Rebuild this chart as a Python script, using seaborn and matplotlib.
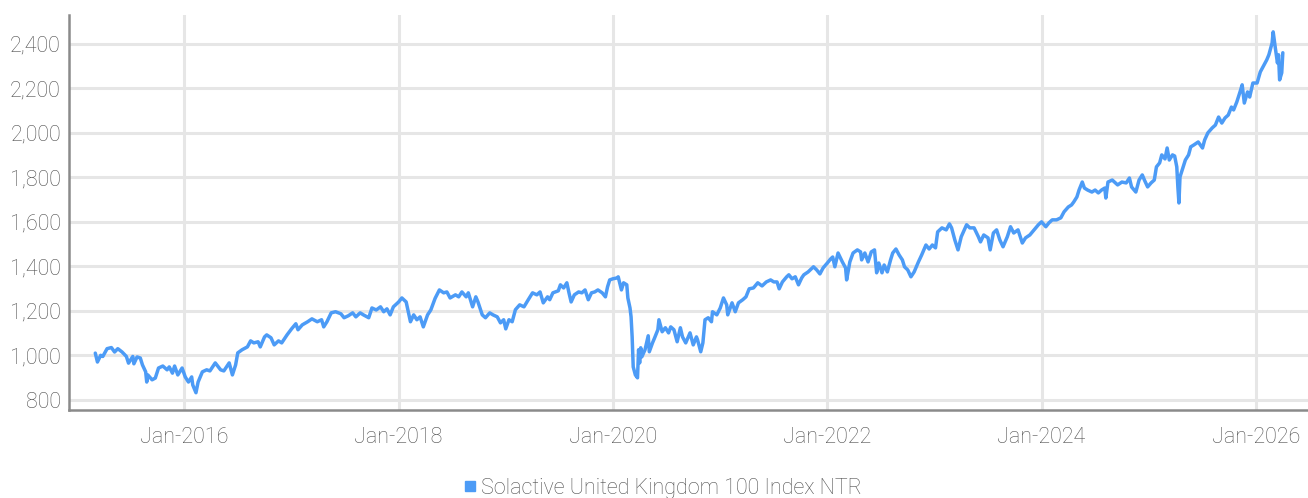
"""Solactive United Kingdom 100 Index NTR - index level over time"""

import matplotlib
matplotlib.use("Agg")
import matplotlib.pyplot as plt
import matplotlib.dates as mdates
import matplotlib.ticker as tic
from matplotlib.lines import Line2D
import seaborn as sns
import pandas as pd
import numpy as np

# index level, dates as decimal years
years = [
    2015.17, 2015.19, 2015.22, 2015.24, 2015.28, 2015.32, 2015.35, 2015.38, 2015.42, 2015.46,
    2015.48, 2015.52, 2015.53, 2015.56, 2015.59, 2015.61, 2015.64, 2015.65, 2015.66, 2015.70,
    2015.73, 2015.76, 2015.80, 2015.84, 2015.86, 2015.89, 2015.91, 2015.94, 2015.98, 2016.01,
    2016.04, 2016.07, 2016.08, 2016.11, 2016.13, 2016.17, 2016.21, 2016.24, 2016.29, 2016.34,
    2016.37, 2016.42, 2016.45, 2016.48, 2016.50, 2016.54, 2016.59, 2016.62, 2016.65, 2016.69,
    2016.71, 2016.75, 2016.77, 2016.81, 2016.84, 2016.88, 2016.91, 2016.96, 2017.00, 2017.04,
    2017.06, 2017.10, 2017.15, 2017.19, 2017.24, 2017.28, 2017.30, 2017.33, 2017.37, 2017.41,
    2017.46, 2017.49, 2017.53, 2017.57, 2017.60, 2017.64, 2017.67, 2017.72, 2017.75, 2017.79,
    2017.83, 2017.86, 2017.89, 2017.92, 2017.95, 2018.00, 2018.03, 2018.07, 2018.09, 2018.11,
    2018.14, 2018.17, 2018.20, 2018.23, 2018.27, 2018.30, 2018.34, 2018.38, 2018.42, 2018.45,
    2018.48, 2018.53, 2018.56, 2018.59, 2018.63, 2018.65, 2018.69, 2018.72, 2018.74, 2018.78,
    2018.81, 2018.85, 2018.88, 2018.92, 2018.95, 2018.98, 2019.00, 2019.03, 2019.06, 2019.09,
    2019.13, 2019.17, 2019.21, 2019.25, 2019.29, 2019.32, 2019.35, 2019.39, 2019.41, 2019.44,
    2019.49, 2019.51, 2019.54, 2019.57, 2019.59, 2019.61, 2019.64, 2019.68, 2019.71, 2019.74,
    2019.77, 2019.80, 2019.83, 2019.86, 2019.90, 2019.93, 2019.95, 2019.97, 2020.00, 2020.04,
    2020.05, 2020.08, 2020.10, 2020.13, 2020.14, 2020.16, 2020.17, 2020.18, 2020.19, 2020.21,
    2020.23, 2020.24, 2020.25, 2020.26, 2020.27, 2020.30, 2020.33, 2020.34, 2020.37, 2020.39,
    2020.42, 2020.43, 2020.46, 2020.49, 2020.52, 2020.54, 2020.57, 2020.60, 2020.63, 2020.65,
    2020.68, 2020.72, 2020.75, 2020.78, 2020.79, 2020.82, 2020.84, 2020.86, 2020.89, 2020.92,
    2020.93, 2020.97, 2021.00, 2021.03, 2021.06, 2021.07, 2021.11, 2021.14, 2021.17, 2021.21,
    2021.24, 2021.27, 2021.31, 2021.35, 2021.39, 2021.43, 2021.47, 2021.50, 2021.53, 2021.55,
    2021.58, 2021.62, 2021.64, 2021.67, 2021.70, 2021.73, 2021.76, 2021.78, 2021.82, 2021.87,
    2021.90, 2021.93, 2021.96, 2022.00, 2022.03, 2022.05, 2022.07, 2022.10, 2022.14, 2022.17,
    2022.18, 2022.21, 2022.24, 2022.28, 2022.31, 2022.32, 2022.35, 2022.38, 2022.41, 2022.44,
    2022.46, 2022.48, 2022.51, 2022.53, 2022.56, 2022.59, 2022.61, 2022.64, 2022.67, 2022.70,
    2022.72, 2022.75, 2022.78, 2022.81, 2022.85, 2022.88, 2022.92, 2022.95, 2022.98, 2023.01,
    2023.03, 2023.07, 2023.11, 2023.14, 2023.16, 2023.19, 2023.22, 2023.25, 2023.30, 2023.33,
    2023.37, 2023.41, 2023.43, 2023.46, 2023.50, 2023.52, 2023.55, 2023.58, 2023.61, 2023.64,
    2023.68, 2023.71, 2023.74, 2023.78, 2023.82, 2023.85, 2023.89, 2023.93, 2023.97, 2024.00,
    2024.04, 2024.07, 2024.10, 2024.14, 2024.18, 2024.21, 2024.25, 2024.28, 2024.30, 2024.33,
    2024.35, 2024.38, 2024.40, 2024.43, 2024.47, 2024.50, 2024.53, 2024.56, 2024.59, 2024.60,
    2024.62, 2024.66, 2024.71, 2024.75, 2024.79, 2024.82, 2024.84, 2024.88, 2024.91, 2024.94,
    2024.96, 2024.99, 2025.02, 2025.05, 2025.07, 2025.10, 2025.12, 2025.15, 2025.17, 2025.19,
    2025.22, 2025.24, 2025.26, 2025.27, 2025.28, 2025.29, 2025.31, 2025.34, 2025.37, 2025.39,
    2025.42, 2025.46, 2025.50, 2025.52, 2025.55, 2025.59, 2025.62, 2025.65, 2025.68, 2025.71,
    2025.74, 2025.77, 2025.79, 2025.82, 2025.85, 2025.87, 2025.89, 2025.92, 2025.94, 2025.97,
    2026.01, 2026.04, 2026.06, 2026.10, 2026.12, 2026.15, 2026.16, 2026.18, 2026.20, 2026.21,
    2026.22, 2026.24, 2026.25,
]

levels = [
    1010, 970, 1000, 995, 1030, 1035, 1015, 1030, 1015, 995,
    965, 995, 962, 993, 988, 957, 926, 880, 912, 890,
    898, 943, 952, 935, 948, 920, 952, 912, 943, 903,
    880, 903, 867, 832, 880, 926, 935, 930, 966, 935,
    930, 966, 912, 957, 1011, 1025, 1038, 1065, 1056, 1061,
    1038, 1083, 1092, 1079, 1047, 1065, 1056, 1092, 1119, 1142,
    1115, 1137, 1151, 1164, 1151, 1160, 1128, 1151, 1191, 1196,
    1187, 1169, 1178, 1191, 1173, 1191, 1182, 1169, 1213, 1204,
    1218, 1196, 1209, 1182, 1218, 1240, 1258, 1240, 1196, 1151,
    1182, 1160, 1173, 1128, 1182, 1204, 1256, 1294, 1281, 1285,
    1258, 1272, 1263, 1285, 1263, 1281, 1218, 1263, 1240, 1182,
    1169, 1191, 1182, 1173, 1146, 1160, 1119, 1160, 1151, 1205,
    1227, 1218, 1250, 1281, 1272, 1285, 1236, 1263, 1250, 1281,
    1290, 1317, 1303, 1326, 1281, 1240, 1272, 1285, 1281, 1294,
    1250, 1281, 1285, 1294, 1281, 1263, 1308, 1339, 1344, 1348,
    1353, 1294, 1326, 1317, 1258, 1213, 1173, 1083, 948, 912,
    899, 1025, 966, 1034, 993, 1025, 1088, 1016, 1056, 1079,
    1115, 1160, 1106, 1124, 1101, 1128, 1115, 1061, 1124, 1083,
    1056, 1101, 1047, 1083, 1070, 1016, 1056, 1160, 1169, 1151,
    1196, 1182, 1213, 1258, 1227, 1182, 1236, 1196, 1236, 1250,
    1263, 1299, 1303, 1326, 1312, 1330, 1339, 1330, 1330, 1299,
    1330, 1353, 1362, 1344, 1353, 1317, 1348, 1362, 1375, 1398,
    1384, 1366, 1393, 1415, 1433, 1442, 1398, 1460, 1420, 1393,
    1339, 1420, 1460, 1474, 1465, 1429, 1460, 1420, 1465, 1474,
    1371, 1415, 1371, 1406, 1375, 1429, 1460, 1478, 1451, 1429,
    1398, 1384, 1353, 1375, 1420, 1451, 1496, 1478, 1496, 1483,
    1555, 1573, 1564, 1591, 1573, 1519, 1474, 1533, 1587, 1573,
    1573, 1533, 1510, 1541, 1528, 1474, 1550, 1564, 1519, 1488,
    1533, 1578, 1550, 1564, 1505, 1528, 1541, 1564, 1587, 1600,
    1578, 1596, 1609, 1609, 1618, 1645, 1667, 1676, 1689, 1712,
    1743, 1779, 1752, 1743, 1734, 1743, 1730, 1743, 1752, 1707,
    1779, 1788, 1766, 1779, 1775, 1797, 1757, 1734, 1788, 1811,
    1788, 1757, 1775, 1788, 1847, 1865, 1901, 1883, 1932, 1878,
    1901, 1896, 1847, 1757, 1685, 1802, 1833, 1878, 1901, 1937,
    1946, 1959, 1932, 1968, 2000, 2022, 2035, 2071, 2044, 2067,
    2080, 2116, 2103, 2139, 2184, 2216, 2134, 2184, 2161, 2224,
    2224, 2274, 2292, 2328, 2351, 2404, 2454, 2382, 2314, 2351,
    2238, 2270, 2360,
]

series_name = "Solactive United Kingdom 100 Index NTR"
y_ticks = [800, 1000, 1200, 1400, 1600, 1800, 2000, 2200, 2400]

line_color = "#4C9BF6"
grid_color = "#E6E6E6"
text_color = "#505050"


def to_date(y):
    """Decimal year -> Timestamp"""
    yr = int(np.floor(y))
    start = pd.Timestamp(year=yr, month=1, day=1)
    return start + pd.Timedelta(days=(y - yr) * 365.25)


df = pd.DataFrame({"Date": [to_date(y) for y in years], "Level": levels})

sns.set_style("white")
plt.rcParams["font.family"] = ["Roboto", "DejaVu Sans"]

fig = plt.figure(figsize=(13.08, 4.98), dpi=100)
ax = fig.add_axes([0.053, 0.177, 0.947, 0.793])

sns.lineplot(data=df, x="Date", y="Level", color=line_color, linewidth=2.5, ax=ax, legend=False)

# axis ranges
ax.set_xlim(to_date(2014.927), to_date(2026.485))
ax.set_ylim(755, 2530)

ax.xaxis.set_major_locator(mdates.YearLocator(2))
ax.xaxis.set_major_formatter(mdates.DateFormatter("%b-%Y"))
ax.set_yticks(y_ticks)
ax.yaxis.set_major_formatter(tic.StrMethodFormatter("{x:,.0f}"))

ax.grid(True, color=grid_color, linewidth=2.2)
ax.set_axisbelow(True)

for side in ["top", "right"]:
    ax.spines[side].set_visible(False)
for side in ["left", "bottom"]:
    ax.spines[side].set_color("#8A8A8A")
    ax.spines[side].set_linewidth(1.8)

ax.tick_params(axis="both", length=0, labelsize=15.5, labelcolor=text_color)
ax.tick_params(axis="x", pad=12)
ax.tick_params(axis="y", pad=6)
for lab in ax.get_xticklabels() + ax.get_yticklabels():
    lab.set_fontweight("light")

ax.set_xlabel("")
ax.set_ylabel("")

handle = Line2D([], [], marker="s", linestyle="none", color=line_color, markersize=7)
leg = fig.legend([handle], [series_name], loc="lower center", bbox_to_anchor=(0.505, -0.04),
                 frameon=False, handletextpad=0.0, handlelength=1.0, fontsize=15.5)
for t in leg.get_texts():
    t.set_color(text_color)
    t.set_fontweight("light")

plt.savefig("out.png", dpi=100)
